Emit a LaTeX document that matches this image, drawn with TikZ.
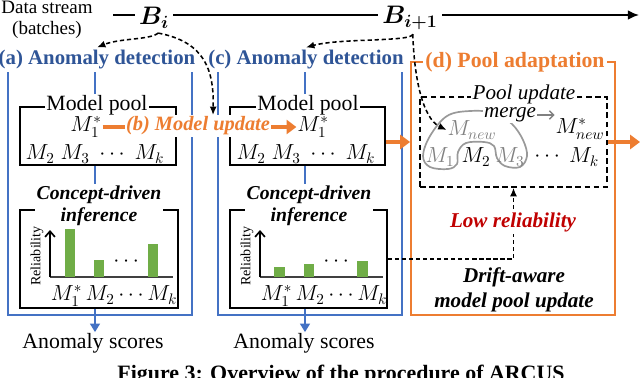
\RequirePackage{fix-cm}
\documentclass[tikz,border=0pt]{standalone}
\usepackage{amsmath,bm}
\usepackage{fontspec}
\setmainfont{Liberation Serif}
\usetikzlibrary{arrows.meta,calc,fit,positioning}
\definecolor{detblue}{HTML}{2F5597}
\definecolor{lineblue}{HTML}{4472C4}
\definecolor{adaptorange}{HTML}{ED7D31}
\definecolor{bargreen}{HTML}{70AD47}
\definecolor{lowred}{HTML}{C00000}

\begin{document}
\begin{tikzpicture}[x=0.025cm,y=-0.025cm,
txt/.style={font=\fontsize{15.5}{17}\selectfont,inner sep=0.5pt},
detlabel/.style={font=\bfseries\fontsize{14.8}{17}\selectfont,text=detblue,fill=white,inner sep=2pt},
boxtitle/.style={font=\fontsize{15.5}{17}\selectfont,fill=white,inner sep=1pt},
itlabel/.style={font=\bfseries\itshape\fontsize{14}{15.5}\selectfont,align=center},
bluebox/.style={draw=lineblue,line width=1pt,inner sep=0pt},
poolbox/.style={draw,line width=1.3pt,fill=white,inner sep=0pt},
blueline/.style={lineblue,line width=1.1pt,-{Triangle[length=6pt,width=7pt]}},
dasharrow/.style={line width=1.1pt,dash pattern=on 3pt off 2pt,-{Latex[length=6pt,width=5pt]}},
thickarrow/.style={adaptorange,line width=3.2pt,-{Triangle[length=7pt,width=10pt]}},
bar/.style={fill=bargreen},
]
\useasboundingbox (0,0) rectangle (640,377);
\clip (0,0) rectangle (640,377);

\node[font=\fontsize{13.5}{15}\selectfont,align=center] (stream) at (47,20) {Data stream\\(batches)};
\coordinate (tstart) at (113,15);
\coordinate (tend) at (639,15);
\draw[line width=1.4pt,-{Latex[length=8pt,width=7pt]}] (tstart) -- (tend);
\node[fill=white,font=\fontsize{18}{18}\selectfont,inner sep=3pt] (bi) at (154,18) {$\bm{B}_{\bm{i}}$};
\node[fill=white,font=\fontsize{18}{18}\selectfont,inner sep=3pt] (bnext) at (410,18) {$\bm{B}_{\bm{i+1}}$};

\node[bluebox,fit={(8,60) (192,315)}] (boxA) {};
\node[bluebox,fit={(218,60) (402,315)}] (boxC) {};
\node[draw=adaptorange,line width=1.3pt,inner sep=0pt,fit={(411,62) (615,315)}] (boxD) {};

\node[txt] (scoreA) at (93,343) {Anomaly scores};
\node[txt] (scoreC) at (304,343) {Anomaly scores};
\draw[blueline] (95,60) -- (scoreA.north -| 95,0);
\draw[blueline] (305,60) -- (scoreC.north -| 305,0);

\node[poolbox,fit={(20,107) (176,165)}] (poolA) {};
\node[poolbox,fit={(20,210) (178,308)}] (infA) {};
\node[poolbox,fit={(230,107) (385,165)}] (poolC) {};
\node[poolbox,fit={(230,210) (387,308)}] (infC) {};

\node[detlabel] (detA) at (97,60) {(a) Anomaly detection};
\node[detlabel] (detC) at (306,60) {(c) Anomaly detection};
\node[fill=white,text=adaptorange,font=\bfseries\fontsize{15.5}{17}\selectfont,inner sep=2pt] (detD) at (515,62) {(d) Pool adaptation};

\node[boxtitle] (titleA) at (97,105) {Model pool};
\node[boxtitle] (titleC) at (308,105) {Model pool};
\node[txt] (m1A) at (86,127) {$M_1^*$};
\node[txt] (rowA) at (95,154) {$M_2\; M_3\; \cdots\; M_k$};
\node[txt] (m1C) at (313,127) {$M_1^*$};
\node[txt] (rowC) at (306,154) {$M_2\; M_3\; \cdots\; M_k$};

\node[itlabel,fill=white,inner sep=1.5pt] (cdA) at (99,206) {Concept-driven\\inference};
\node[itlabel,fill=white,inner sep=1.5pt] (cdC) at (309,206) {Concept-driven\\inference};

\node[rotate=90,font=\fontsize{10}{12}\selectfont] (relA) at (37,256) {Reliability};
\draw[line width=0.8pt,black!75] (50,277) -- (173,277);
\draw[line width=1.2pt,-{Straight Barb[length=4pt,width=7pt]}] (50,277) -- (50,230);
\fill[bar] (65,277) rectangle (75,229);
\fill[bar] (94,277) rectangle (104,260);
\fill[bar] (148,277) rectangle (158,244);
\node[txt] (dotsA) at (128,262) {$\cdots$};
\node[txt] (labA) at (114,296) {$M_1^*\, M_2 \cdots M_k$};

\node[rotate=90,font=\fontsize{10}{12}\selectfont] (relC) at (247,256) {Reliability};
\draw[line width=0.8pt,black!75] (260,277) -- (383,277);
\draw[line width=1.2pt,-{Straight Barb[length=4pt,width=7pt]}] (260,277) -- (260,230);
\fill[bar] (274,277) rectangle (285,267);
\fill[bar] (304,277) rectangle (314,264);
\fill[bar] (357,277) rectangle (368,261);
\node[txt] (dotsC) at (338,262) {$\cdots$};
\node[txt] (labC) at (324,296) {$M_1^*\, M_2 \cdots M_k$};

\draw[thickarrow] (m1A.east) -- (m1C.west);
\node[fill=white,text=adaptorange,font=\bfseries\itshape\fontsize{14.5}{17}\selectfont,inner sep=1pt] (upd) at (198,126) {(b) Model update};

\node[draw,line width=1.2pt,dash pattern=on 4pt off 2.5pt,inner sep=0pt,fit={(420,97) (607,187)}] (pupd) {};
\node[fill=white,font=\itshape\fontsize{15}{17}\selectfont,inner sep=1pt] (pupdT) at (524,94) {Pool update};
\draw[gray!80,line width=1.2pt] plot[smooth cycle,tension=0.6] coordinates {(423,156) (430,136) (447,116) (470,111) (495,113) (512,124) (523,140) (527,156) (520,167) (505,166) (497,158) (494,146) (484,142) (466,143) (458,152) (457,164) (448,169) (430,167)};
\node[fill=white,font=\itshape\fontsize{15}{17}\selectfont,inner sep=0.5pt] (merge) at (510,115) {merge};
\node[txt,text=gray] (mnew) at (472,130) {$M_{new}$};
\node[txt] (mstar) at (580,129) {$M^*_{new}$};
\node[txt,text=gray] (mone) at (440,157) {$M_1$};
\node[txt] (mtwo) at (476,157) {$M_2$};
\node[txt,text=gray] (mthree) at (510,157) {$M_3$};
\node[txt] (mdots) at (549,157) {$\cdots$};
\node[txt] (mk) at (584,157) {$M_k$};
\draw[gray,line width=1pt,-{Straight Barb[length=3pt,width=6pt]}] (merge.east) -- (merge.east -| mstar.west);

\draw[thickarrow] ($(poolC.east)+(0,6)$) -- ($(poolC.east -| boxD.west)+(0,6)$);
\coordinate (outD) at (640,142);
\draw[thickarrow] (pupd.east) -- (outD);

\draw[dasharrow] (infC.east) -| (pupd.south);
\node[fill=white,text=lowred,font=\bfseries\itshape\fontsize{15}{17}\selectfont,inner sep=2pt] (low) at (513,222) {Low reliability};
\node[itlabel,font=\bfseries\itshape\fontsize{15}{17.5}\selectfont] (drift) at (514,290) {Drift-aware\\model pool update};

\draw[dasharrow] ([xshift=3pt]bi.south) .. controls (150,40) and (120,38) .. (detA.north);
\draw[dasharrow] ([xshift=3pt]bi.south) .. controls (205,42) and (214,70) .. ($(upd.north)+(15,0)$);
\draw[dasharrow] ([xshift=2pt]bnext.south) .. controls (412,42) and (340,38) .. (detC.north);
\draw[dasharrow] ([xshift=2pt]bnext.south) .. controls (414,75) and (422,118) .. (mnew.west);

\node[anchor=base,font=\bfseries\fontsize{15.6}{17}\selectfont] (cap) at (341,380) {Figure 3: Overview of the procedure of ARCUS};
\end{tikzpicture}
\end{document}
